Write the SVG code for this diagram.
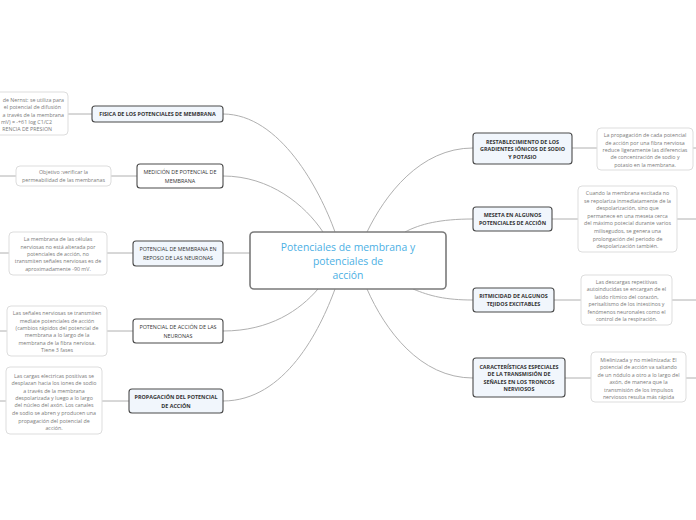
<svg xmlns="http://www.w3.org/2000/svg" width="696" height="520" viewBox="0 0 696 520">
<style>
.bg{fill:#ffffff}
.conn path,.conn line{fill:none;stroke:#b0b0b0;stroke-width:1}
.center rect{fill:#ffffff;stroke:#7a7a7a;stroke-width:1.6}
.center text{font-family:"Open Sans","Noto Sans",sans-serif;font-size:10.4px;fill:#4cb0e4;text-anchor:middle}
.topic rect{stroke:#4a4a4a;stroke-width:1.1}
.topic .fb{fill:#f1f6fc}
.topic .fw{fill:#ffffff}
.topic text{font-family:"Open Sans","Noto Sans",sans-serif;font-size:5.4px;fill:#333;text-anchor:middle}
.topic text.b{font-weight:bold}
.note rect{fill:#ffffff;stroke:#dddddd;stroke-width:1}
.note text{font-family:"Open Sans","Noto Sans",sans-serif;font-size:5.3px;fill:#7a7a7a;text-anchor:middle}
</style>
<rect class="bg" x="0" y="0" width="696" height="520"/>
<g id="connectors" class="conn">
<path d="M223,114 C280,114 320,190 335,232"/>
<path d="M223,176 C270,176 305,205 323,232"/>
<line x1="223" y1="253" x2="250" y2="253"/>
<path d="M223,331 C270,331 300,310 318,289"/>
<path d="M223,401 C285,401 320,330 335,289"/>
<path d="M473,148 C420,148 385,195 367,232"/>
<path d="M473,219 C440,219 420,224 405,232"/>
<path d="M473,300 C445,300 430,296 413,289"/>
<path d="M473,378 C420,378 385,330 367,289"/>
<line x1="68" y1="114" x2="92" y2="114"/>
<line x1="0" y1="176" x2="16" y2="176"/>
<line x1="111" y1="176" x2="137" y2="176"/>
<line x1="0" y1="253" x2="9" y2="253"/>
<line x1="107" y1="253" x2="133" y2="253"/>
<line x1="0" y1="331" x2="7" y2="331"/>
<line x1="107" y1="331" x2="133" y2="331"/>
<line x1="0" y1="401" x2="6" y2="401"/>
<line x1="102" y1="401" x2="129" y2="401"/>
<line x1="572" y1="148" x2="597" y2="148"/>
<line x1="693" y1="148" x2="696" y2="148"/>
<line x1="552" y1="219" x2="578" y2="219"/>
<line x1="677" y1="219" x2="696" y2="219"/>
<line x1="554" y1="300" x2="581" y2="300"/>
<line x1="672" y1="300" x2="696" y2="300"/>
<line x1="565" y1="378" x2="591" y2="378"/>
<line x1="686" y1="378" x2="696" y2="378"/>
</g>
<g id="center" class="center">
<rect x="250" y="232" width="196" height="57" rx="4"/>
<text x="348" y="251">Potenciales de membrana y</text>
<text x="348" y="265">potenciales de</text>
<text x="348" y="279">acción</text>
</g>
<g id="n-fisica" class="topic">
<rect class="fb" x="92" y="106" width="131" height="16" rx="3"/>
<text class="b" x="157.5" y="116">FISICA DE LOS POTENCIALES DE MEMBRANA</text>
</g>
<g id="note-fisica" class="note">
<rect x="-60" y="92" width="128" height="43" rx="4"/>
<text x="64" y="102" style="text-anchor:end">de Nernst: se utiliza para</text>
<text x="61" y="109" style="text-anchor:end">el potencial de difusión</text>
<text x="64" y="116.5" style="text-anchor:end">a través de la membrana</text>
<text x="52" y="123.5" style="text-anchor:end">mV) = -+61 log C1/C2</text>
<text x="52" y="131" style="text-anchor:end">RENCIA DE PRESION</text>
</g>
<g id="n-medicion" class="topic">
<rect class="fw" x="137" y="164" width="86" height="24" rx="3"/>
<text x="180" y="174">MEDICIÓN DE POTENCIAL DE</text>
<text x="180" y="182.5">MEMBRANA</text>
</g>
<g id="note-medicion" class="note">
<rect x="16" y="166" width="95" height="20" rx="4"/>
<text x="63.5" y="174">Objetivo :verificar la</text>
<text x="63.5" y="182">permeabilidad de las membranas</text>
</g>
<g id="n-reposo" class="topic">
<rect class="fb" x="133" y="241" width="90" height="25" rx="3"/>
<text x="178" y="251">POTENCIAL DE MEMBRANA EN</text>
<text x="178" y="259.5">REPOSO DE LAS NEURONAS</text>
</g>
<g id="note-reposo" class="note">
<rect x="9" y="232" width="98" height="43" rx="4"/>
<text x="58" y="241">La membrana de las células</text>
<text x="58" y="248.5">nerviosas no está alterada por</text>
<text x="58" y="256">potenciales de acción, no</text>
<text x="58" y="263">transmiten señales nerviosas es de</text>
<text x="58" y="270.5">aproximadamente -90 mV.</text>
</g>
<g id="n-accion" class="topic">
<rect class="fw" x="133" y="319" width="90" height="24" rx="3"/>
<text x="178" y="329">POTENCIAL DE ACCIÓN DE LAS</text>
<text x="178" y="337.5">NEURONAS</text>
</g>
<g id="note-accion" class="note">
<rect x="7" y="306" width="100" height="50" rx="4"/>
<text x="57" y="315">Las señales nerviosas se transmiten</text>
<text x="57" y="322.5">mediate potenciales de acción</text>
<text x="57" y="330">(cambios rápidos del potencial de</text>
<text x="57" y="337">membrana a lo largo de la</text>
<text x="57" y="344.5">membrana de la fibra nerviosa.</text>
<text x="57" y="352">Tiene 3 fases</text>
</g>
<g id="n-propagacion" class="topic">
<rect class="fb" x="129" y="389" width="94" height="24" rx="3"/>
<text class="b" x="176" y="399">PROPAGACIÓN DEL POTENCIAL</text>
<text class="b" x="176" y="407.5">DE ACCIÓN</text>
</g>
<g id="note-propagacion" class="note">
<rect x="6" y="367" width="96" height="67" rx="4"/>
<text x="54" y="377.5">Las cargas electricas positivas se</text>
<text x="54" y="385">desplazan hacia los iones de sodio</text>
<text x="54" y="392.5">a través de la membrana</text>
<text x="54" y="400">despolarizada y luego a lo largo</text>
<text x="54" y="407">del núcleo del axón. Los canales</text>
<text x="54" y="414.5">de sodio se abren y producen una</text>
<text x="54" y="422.5">propagación del potencial de</text>
<text x="54" y="430">acción.</text>
</g>
<g id="n-restablecimiento" class="topic">
<rect class="fb" x="473" y="133" width="99" height="31" rx="3"/>
<text class="b" x="522.5" y="143.5">RESTABLECIMIENTO DE LOS</text>
<text class="b" x="522.5" y="151">GRADIENTES IÓNICOS DE SODIO</text>
<text class="b" x="522.5" y="158.5">Y POTASIO</text>
</g>
<g id="note-restablecimiento" class="note">
<rect x="597" y="128" width="96" height="42" rx="4"/>
<text x="645" y="137">La propagación de cada potencial</text>
<text x="645" y="144.5">de acción por una fibra nerviosa</text>
<text x="645" y="152">reduce ligeramente las diferencias</text>
<text x="645" y="159">de concentración de sodio y</text>
<text x="645" y="166.5">potasio en la membrana.</text>
</g>
<g id="n-meseta" class="topic">
<rect class="fb" x="473" y="207" width="79" height="24" rx="3"/>
<text class="b" x="512.5" y="216.5">MESETA EN ALGUNOS</text>
<text class="b" x="512.5" y="225">POTENCIALES DE ACCIÓN</text>
</g>
<g id="note-meseta" class="note">
<rect x="578" y="186" width="99" height="66" rx="4"/>
<text x="627.5" y="195">Cuando la membrana excitada no</text>
<text x="627.5" y="202.5">se repolariza inmediatamente de la</text>
<text x="627.5" y="210">despolarización, sino que</text>
<text x="627.5" y="217.5">permanece en una meseta cerca</text>
<text x="627.5" y="225">del máximo potecial durante varios</text>
<text x="627.5" y="233">milisegudos, se genera una</text>
<text x="627.5" y="240.5">prolongación del periodo de</text>
<text x="627.5" y="248">despolarización también.</text>
</g>
<g id="n-ritmicidad" class="topic">
<rect class="fb" x="473" y="288" width="81" height="24" rx="3"/>
<text class="b" x="513.5" y="297.5">RITMICIDAD DE ALGUNOS</text>
<text class="b" x="513.5" y="306">TEJIDOS EXCITABLES</text>
</g>
<g id="note-ritmicidad" class="note">
<rect x="581" y="275" width="91" height="50" rx="4"/>
<text x="626.5" y="284">Las descargas repetitivas</text>
<text x="626.5" y="291">autoinducidas se encargan de el</text>
<text x="626.5" y="298.5">latido rítmico del corazón,</text>
<text x="626.5" y="305.5">perisaltismo de los intestinos y</text>
<text x="626.5" y="313.5">fenómenos neuronales como el</text>
<text x="626.5" y="321">control de la respiración.</text>
</g>
<g id="n-caracteristicas" class="topic">
<rect class="fb" x="473" y="358" width="92" height="39" rx="3"/>
<text class="b" x="519" y="369">CARACTERÍSTICAS ESPECIALES</text>
<text class="b" x="519" y="376">DE LA TRANSMISIÓN DE</text>
<text class="b" x="519" y="384">SEÑALES EN LOS TRONCOS</text>
<text class="b" x="519" y="391">NERVIOSOS</text>
</g>
<g id="note-caracteristicas" class="note">
<rect x="591" y="352" width="95" height="50" rx="4"/>
<text x="638.5" y="361.5">Mielinizada y no mielinizada: El</text>
<text x="638.5" y="369">potencial de acción va saltando</text>
<text x="638.5" y="376.5">de un nódulo a otro a lo largo del</text>
<text x="638.5" y="384">axón, de manera que la</text>
<text x="638.5" y="391.5">transmisión de los impulsos</text>
<text x="638.5" y="399">nerviosos resulta más rápida</text>
</g>
</svg>
